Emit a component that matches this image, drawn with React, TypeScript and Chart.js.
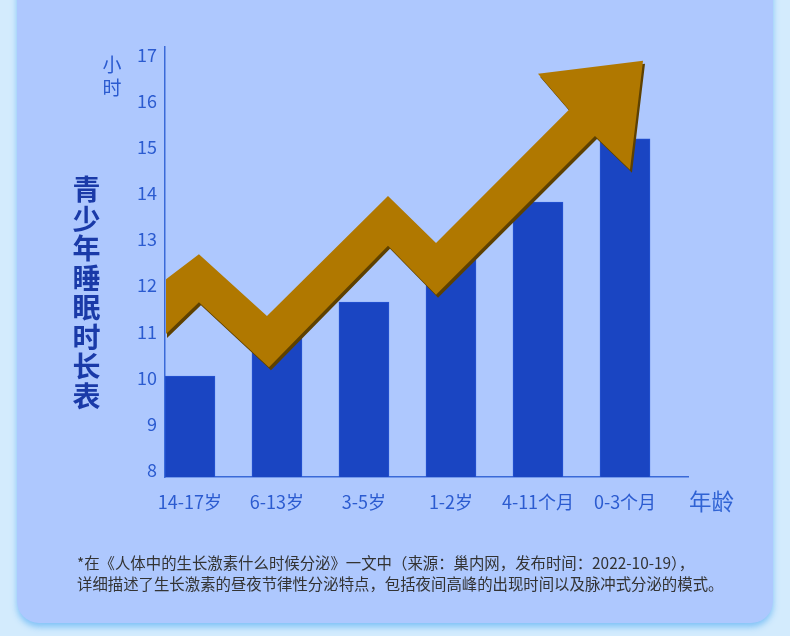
import React, { useEffect, useRef } from "react";
import { Chart, registerables } from "chart.js";
Chart.register(...registerables);

const categories = ["14-17岁", "6-13岁", "3-5岁", "1-2岁", "4-11个月", "0-3个月"];
const sleepHours = [10.04, 11.0, 11.64, 12.7, 13.81, 15.18];
const yTicks = [8, 9, 10, 11, 12, 13, 14, 15, 16, 17];
// decorative zig-zag arrow outline, in (category index, hours)
const arrowX = [-0.287, 0.103, 0.885, 2.276, 2.828, 4.356, 4.0, 5.207, 5.057, 4.655, 2.828, 2.276, 0.908, 0.103, -0.287];
const arrowY = [12.12, 12.68, 11.34, 13.94, 12.92, 15.81, 16.59, 16.87, 14.51, 15.24, 11.8, 12.86, 10.23, 11.64, 10.93];

const FONT = '"Noto Sans CJK SC", "Noto Sans", sans-serif';
const TITLE = "青少年睡眠时长表";

const arrowPlugin = {
  id: "zigArrow",
  afterDatasetsDraw(chart: any) {
    const { ctx, chartArea, scales } = chart;
    const xs = scales.x;
    const ys = scales.y;
    const pts = arrowX.map((v, i) => [xs.getPixelForValue(v), ys.getPixelForValue(arrowY[i])]);
    const path = (dx: number, dy: number) => {
      ctx.beginPath();
      pts.forEach(([px, py], i) => {
        if (i === 0) ctx.moveTo(px + dx, py + dy);
        else ctx.lineTo(px + dx, py + dy);
      });
      ctx.closePath();
    };
    ctx.save();
    ctx.beginPath();
    ctx.rect(chartArea.left + 1, 0, chart.width - chartArea.left, chart.height);
    ctx.clip();
    ctx.fillStyle = "#5e4100";
    path(2, 3);
    ctx.fill();
    ctx.fillStyle = "#b07800";
    path(0, 0);
    ctx.fill();
    ctx.restore();
  },
};

export default function App() {
  const ref = useRef<HTMLCanvasElement | null>(null);
  useEffect(() => {
    if (!ref.current) return;
    const chart = new Chart(ref.current, {
      type: "bar",
      data: {
        datasets: [
          {
            data: sleepHours.map((v, i) => ({ x: i, y: v })),
            backgroundColor: "#1a45c2",
            borderColor: "#2553d2",
            borderWidth: 1,
            barThickness: 50,
          },
        ],
      },
      options: {
        animation: false,
        responsive: true,
        maintainAspectRatio: false,
        layout: { padding: { top: 47, right: 102, left: 0, bottom: 0 } },
        plugins: { legend: { display: false }, tooltip: { enabled: false } },
        scales: {
          x: {
            type: "linear",
            offset: false,
            min: -0.287,
            max: 5.724,
            afterBuildTicks: (s: any) => {
              s.ticks = categories.map((_, i) => ({ value: i }));
            },
            afterFit: (s: any) => {
              s.height = 159;
            },
            grid: { color: "transparent", drawTicks: false, offset: false },
            border: { display: true, color: "#3a6ad8", width: 1.5 },
            ticks: {
              padding: 14,
              color: "#2b5bd0",
              font: { family: FONT, size: 18 },
              callback: (v: any) => categories[Math.round(Number(v))] ?? "",
              maxRotation: 0,
              autoSkip: false,
            },
          },
          y: {
            min: 7.85,
            max: 17.17,
            afterBuildTicks: (s: any) => {
              s.ticks = yTicks.map((v) => ({ value: v }));
            },
            afterFit: (s: any) => {
              s.width = 165;
            },
            grid: { color: "transparent", drawTicks: false },
            border: { display: true, color: "#3a6ad8", width: 1.5 },
            ticks: {
              padding: 8,
              color: "#2b5bd0",
              font: { family: FONT, size: 18 },
            },
          },
        },
      },
      plugins: [arrowPlugin],
    } as any);
    return () => chart.destroy();
  }, []);

  return (
    <div
      style={{
        position: "fixed",
        left: 0,
        top: 0,
        width: 790,
        height: 636,
        background: "#d3ebfd",
        overflow: "hidden",
        fontFamily: FONT,
      }}
    >
      <div
        style={{
          position: "absolute",
          left: 17,
          top: -30,
          width: 756,
          height: 653,
          borderRadius: 22,
          background: "#aec8fe",
          boxShadow: "0 4px 6px rgba(110,185,245,0.8)",
        }}
      />
      <div style={{ position: "absolute", left: 0, top: 0, width: 790, height: 636 }}>
        <canvas ref={ref} />
      </div>
      <div
        style={{
          position: "absolute",
          left: 100,
          top: 52,
          width: 24,
          fontSize: 19,
          lineHeight: "23px",
          color: "#2b5bd0",
          textAlign: "center",
        }}
      >
        <div>小</div>
        <div>时</div>
      </div>
      <div
        style={{
          position: "absolute",
          left: 72,
          top: 174,
          width: 29,
          fontSize: 28,
          fontWeight: 700,
          lineHeight: "29.5px",
          color: "#1a3aa8",
          textAlign: "center",
        }}
      >
        {TITLE.split("").map((c, i) => (
          <div key={i}>{c}</div>
        ))}
      </div>
      <div
        style={{
          position: "absolute",
          left: 689,
          top: 485,
          fontSize: 22.5,
          lineHeight: "30px",
          color: "#3063d4",
        }}
      >
        年龄
      </div>
      <div
        style={{
          position: "absolute",
          left: 77,
          top: 552,
          fontSize: 15.4,
          lineHeight: "21px",
          color: "#333333",
          whiteSpace: "nowrap",
        }}
      >
        <div>*在《人体中的生长激素什么时候分泌》一文中（来源：巢内网，发布时间：2022-10-19），</div>
        <div>详细描述了生长激素的昼夜节律性分泌特点，包括夜间高峰的出现时间以及脉冲式分泌的模式。</div>
      </div>
    </div>
  );
}
